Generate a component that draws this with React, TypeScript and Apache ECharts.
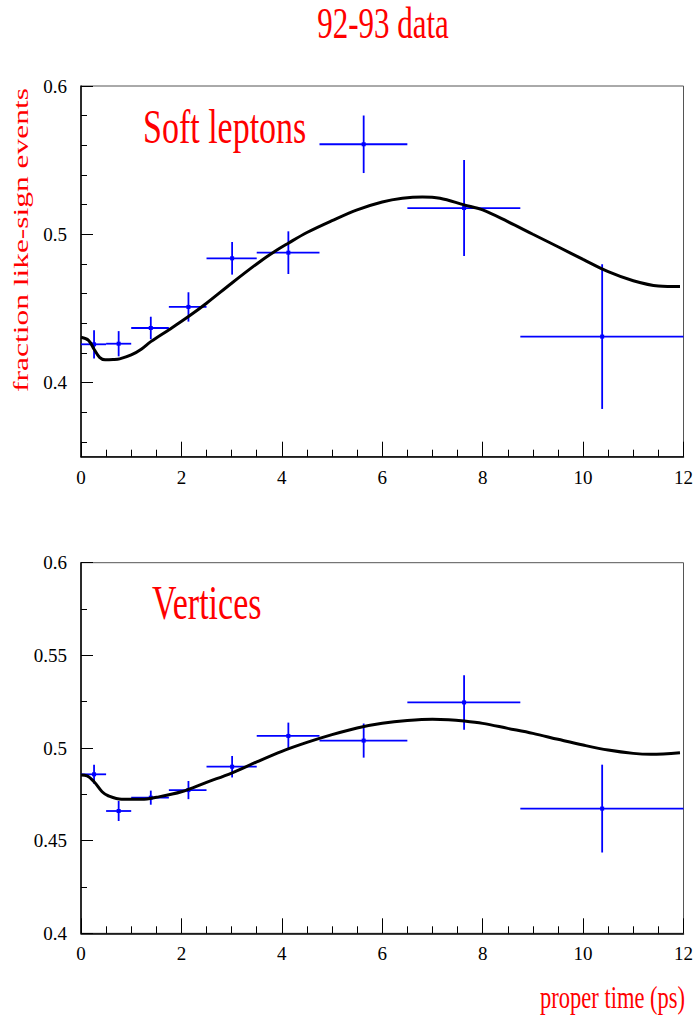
import React, { useEffect, useRef } from "react";
import * as echarts from "echarts";

// ---- data ----
const binEdges = [0, 0.5, 1.0, 1.75, 2.5, 3.5, 4.75, 6.5, 8.75, 12];
const binCenters = [0.26, 0.75, 1.39, 2.14, 3.01, 4.13, 5.63, 7.63, 10.38];

const softValues = [0.4258, 0.4262, 0.4368, 0.451, 0.4838, 0.4876, 0.5607, 0.5177, 0.431];
const softErrors = [0.0095, 0.0085, 0.0076, 0.0099, 0.011, 0.0144, 0.0194, 0.0324, 0.0488];

const vtxValues = [0.4858, 0.466, 0.4732, 0.4773, 0.4899, 0.5065, 0.504, 0.5246, 0.4673];
const vtxErrors = [0.0051, 0.0054, 0.0038, 0.0049, 0.0058, 0.0072, 0.0092, 0.0147, 0.0237];

const softFitX = [0, 0.15, 0.26, 0.37, 0.48, 0.64, 0.77, 1.0, 1.2, 1.39, 1.77, 2.14, 2.5, 3.0, 3.5, 3.82, 4.13, 4.5, 5.0, 5.5, 6.0, 6.4, 6.8, 7.15, 7.63, 8.0, 8.5, 9.0, 9.5, 10.0, 10.5, 11.0, 11.5, 11.93];
const softFitY = [0.4305, 0.4285, 0.4225, 0.417, 0.4153, 0.4155, 0.416, 0.4186, 0.4225, 0.4276, 0.436, 0.4445, 0.4535, 0.467, 0.48, 0.4876, 0.494, 0.5012, 0.5092, 0.5165, 0.5218, 0.5243, 0.5252, 0.5243, 0.5198, 0.5164, 0.5085, 0.5, 0.4916, 0.4831, 0.4748, 0.4687, 0.4651, 0.4647];

const vtxFitX = [0, 0.12, 0.26, 0.42, 0.55, 0.81, 1.21, 1.5, 2.0, 2.5, 3.0, 3.5, 4.0, 4.5, 5.0, 5.5, 6.0, 6.5, 7.0, 7.32, 7.63, 8.0, 8.5, 9.0, 9.5, 10.0, 10.5, 11.0, 11.35, 11.93];
const vtxFitY = [0.4854, 0.485, 0.4818, 0.4764, 0.4741, 0.4723, 0.4723, 0.4734, 0.4764, 0.4815, 0.4865, 0.4925, 0.4982, 0.503, 0.5072, 0.5108, 0.5133, 0.5148, 0.5155, 0.5153, 0.5146, 0.5133, 0.5106, 0.5079, 0.5047, 0.5016, 0.4989, 0.4971, 0.4966, 0.4975];

const softYMajor = [0.4, 0.5, 0.6];
const softYMinor = [0.36, 0.38, 0.42, 0.44, 0.46, 0.48, 0.52, 0.54, 0.56, 0.58];
const vtxYMajor = [0.4, 0.45, 0.5, 0.55, 0.6];
const vtxYMinor = [0.425, 0.475, 0.525, 0.575];

const titleText = "92-93 data";
const softLabel = "Soft leptons";
const vtxLabel = "Vertices";
const yTitle = "fraction like-sign events";
const xTitle = "proper time (ps)";

const FONT = "Liberation Serif";
const RED = "#ff0000";
const BLUE = "#0000ff";

function errRows(values: number[], errors: number[]) {
  return values.map((v, i) => [binCenters[i], binEdges[i], binEdges[i + 1], v, errors[i]]);
}

function renderErr(_params: any, api: any) {
  const x = api.value(0);
  const lo = api.value(1);
  const hi = api.value(2);
  const y = api.value(3);
  const e = api.value(4);
  const pL = api.coord([lo, y]);
  const pR = api.coord([hi, y]);
  const pT = api.coord([x, y + e]);
  const pB = api.coord([x, y - e]);
  const c = api.coord([x, y]);
  const st = { stroke: BLUE, lineWidth: 1.8 };
  return {
    type: "group",
    children: [
      { type: "line", shape: { x1: pL[0], y1: pL[1], x2: pR[0], y2: pR[1] }, style: st },
      { type: "line", shape: { x1: pT[0], y1: pT[1], x2: pB[0], y2: pB[1] }, style: st },
      { type: "rect", shape: { x: c[0] - 2, y: c[1] - 2, width: 4, height: 4 }, style: { fill: BLUE } },
    ],
  };
}

const fmt = (v: any) => String(+Number(v).toFixed(3));

function xAxisCfg(gridIndex: number) {
  return {
    type: "value",
    gridIndex,
    min: 0,
    max: 12,
    interval: 2,
    axisLine: { show: true, onZero: false, lineStyle: { color: "#000", width: 1.5 } },
    axisTick: { show: true, inside: true, length: 15, lineStyle: { color: "#000", width: 1 } },
    minorTick: { show: true, splitNumber: 4, length: 7, lineStyle: { color: "#000", width: 1 } },
    axisLabel: { fontFamily: FONT, fontSize: 19, color: "#000", margin: 11, formatter: fmt },
    splitLine: { show: false },
    minorSplitLine: { show: false },
  };
}

function yMajorCfg(gridIndex: number, min: number, max: number, vals: number[]) {
  return {
    type: "value",
    gridIndex,
    min,
    max,
    position: "left",
    axisLine: { show: true, onZero: false, lineStyle: { color: "#000", width: 1.5 } },
    axisTick: { show: true, inside: true, length: 12, customValues: vals, lineStyle: { color: "#000", width: 1 } },
    axisLabel: { fontFamily: FONT, fontSize: 19, color: "#000", margin: 14, customValues: vals, formatter: fmt },
    splitLine: { show: false },
  };
}

function yMinorCfg(gridIndex: number, min: number, max: number, vals: number[]) {
  return {
    type: "value",
    gridIndex,
    min,
    max,
    position: "left",
    offset: 0,
    axisLine: { show: false },
    axisTick: { show: true, inside: true, length: 6, customValues: vals, lineStyle: { color: "#000", width: 1 } },
    axisLabel: { show: false },
    splitLine: { show: false },
  };
}

function redText(text: string, x: number, y: number, size: number, align: string, scaleY: number) {
  return {
    type: "text",
    x,
    y,
    scaleY,
    style: { text, fill: RED, fontFamily: FONT, fontSize: size, align, verticalAlign: "middle" },
  };
}

export default function App() {
  const ref = useRef<HTMLDivElement>(null);
  useEffect(() => {
    if (!ref.current) return;
    const chart = echarts.init(ref.current, null, { renderer: "svg" });
    const option: any = {
      animation: false,
      backgroundColor: "#ffffff",
      grid: [
        { left: 81, top: 86, width: 605, height: 370.7, show: true, borderColor: "#555", borderWidth: 1, backgroundColor: "transparent" },
        { left: 81, top: 562.7, width: 605, height: 370.6, show: true, borderColor: "#555", borderWidth: 1, backgroundColor: "transparent" },
      ],
      xAxis: [xAxisCfg(0), xAxisCfg(1)],
      yAxis: [
        yMajorCfg(0, 0.35, 0.6, softYMajor),
        yMinorCfg(0, 0.35, 0.6, softYMinor),
        yMajorCfg(1, 0.4, 0.6, vtxYMajor),
        yMinorCfg(1, 0.4, 0.6, vtxYMinor),
      ],
      series: [
        {
          type: "custom",
          xAxisIndex: 0,
          yAxisIndex: 0,
          renderItem: renderErr,
          encode: { x: 0, y: 3 },
          data: errRows(softValues, softErrors),
          z: 2,
        },
        {
          type: "line",
          xAxisIndex: 0,
          yAxisIndex: 0,
          data: softFitX.map((x, i) => [x, softFitY[i]]),
          smooth: 0.35,
          showSymbol: false,
          lineStyle: { color: "#000", width: 3 },
          z: 3,
        },
        {
          type: "custom",
          xAxisIndex: 1,
          yAxisIndex: 2,
          renderItem: renderErr,
          encode: { x: 0, y: 3 },
          data: errRows(vtxValues, vtxErrors),
          z: 2,
        },
        {
          type: "line",
          xAxisIndex: 1,
          yAxisIndex: 2,
          data: vtxFitX.map((x, i) => [x, vtxFitY[i]]),
          smooth: 0.35,
          showSymbol: false,
          lineStyle: { color: "#000", width: 3 },
          z: 3,
        },
      ],
      graphic: [
        redText(titleText, 383, 23, 31, "center", 1.4),
        redText(softLabel, 143, 126.5, 34, "left", 1.45),
        redText(vtxLabel, 152, 602.5, 34, "left", 1.43),
        redText(xTitle, 685, 998, 22.5, "right", 1.4),
        {
          type: "text",
          x: 21,
          y: 240,
          rotation: Math.PI / 2,
          scaleX: 1.43,
          style: { text: yTitle, fill: RED, fontFamily: FONT, fontSize: 22, align: "center", verticalAlign: "middle" },
        },
      ],
    };
    chart.setOption(option);
    return () => chart.dispose();
  }, []);
  return <div ref={ref} style={{ position: "absolute", left: 0, top: 0, width: 696, height: 1020 }} />;
}
